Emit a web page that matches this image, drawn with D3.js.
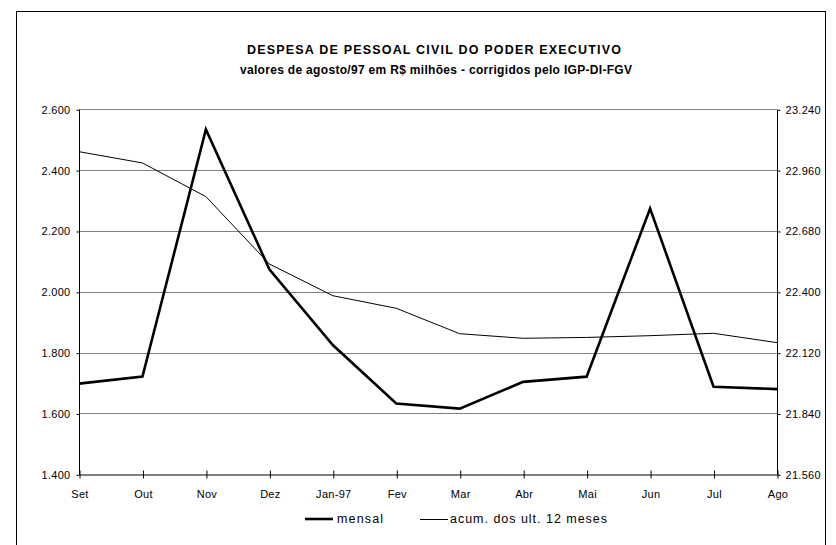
<!DOCTYPE html>
<html><head><meta charset="utf-8">
<script src="https://cdn.jsdelivr.net/npm/d3@7"></script>
<style>body{margin:0;background:#fff}svg{display:block}text{font-family:"Liberation Sans",Arial,sans-serif;fill:#000}</style>
</head><body>
<script>
const months = ["Set","Out","Nov","Dez","Jan-97","Fev","Mar","Abr","Mai","Jun","Jul","Ago"];
const mensal = [1698,1721,2534,2074,1825,1633,1616,1704,1721,2274,1688,1680];
const acum = [23045,22993,22838,22528,22382,22324,22207,22186,22190,22198,22209,22166];
const leftTicks = [1400,1600,1800,2000,2200,2400,2600];
const rightTicks = [21560,21840,22120,22400,22680,22960,23240];
const titleLines = ["DESPESA DE PESSOAL CIVIL DO PODER EXECUTIVO","valores de agosto/97 em R$ milhões - corrigidos pelo IGP-DI-FGV"];
const legendLabels = ["mensal","acum. dos ult. 12 meses"];

const W=836,H=545;
const svg=d3.select("body").append("svg").attr("width",W).attr("height",H);
svg.append("rect").attr("x",16.5).attr("y",11.5).attr("width",809).attr("height",560)
  .attr("fill","#fff").attr("stroke","#000").attr("stroke-width",1);

const x0=79,x1=777,yTop=109.3,yBot=474.3;
const x=d3.scalePoint().domain(months).range([x0,x1]);
const yL=d3.scaleLinear().domain([1400,2600]).range([yBot,yTop]);
const yR=d3.scaleLinear().domain([21560,23240]).range([yBot,yTop]);
const fmt=d3.format(",.0f");
const br=v=>fmt(v).replace(/,/g,".");

// gridlines
svg.append("g").selectAll("line").data(leftTicks.slice(1)).join("line")
  .attr("x1",x0).attr("x2",x1).attr("y1",d=>Math.round(yL(d))+0.5).attr("y2",d=>Math.round(yL(d))+0.5)
  .attr("stroke","#808080").attr("stroke-width",1);

// left axis
const gl=svg.append("g").attr("transform",`translate(${x0+0.5},0.5)`)
  .call(d3.axisLeft(yL).tickValues(leftTicks).tickSize(3).tickPadding(6).tickFormat(br));
// right axis
const gr=svg.append("g").attr("transform",`translate(${x1+0.5},0.5)`)
  .call(d3.axisRight(yR).tickValues(rightTicks).tickSize(3).tickPadding(5).tickFormat(br));
// bottom axis
const gb=svg.append("g").attr("transform",`translate(0.5,${Math.round(yBot)+0.5})`)
  .call(d3.axisBottom(x).tickSizeInner(4).tickSizeOuter(0).tickPadding(12));
gb.selectAll(".tick line").attr("y1",-4);
[gl,gr,gb].forEach(g=>{
  g.select(".domain").attr("stroke","#000");
  g.selectAll(".tick line").attr("stroke","#000");
  g.selectAll("text").attr("font-size",11).attr("font-family","Liberation Sans, Arial, sans-serif").attr("fill","#000").attr("letter-spacing",0.3);
});
gl.select(".domain").attr("d",`M0,${yTop}V${yBot}`);
gr.select(".domain").attr("d",`M0,${yTop}V${yBot}`);

// lines
svg.append("path").datum(acum)
  .attr("d",d3.line().x((d,i)=>x(months[i])).y(d=>yR(d)))
  .attr("fill","none").attr("stroke","#000").attr("stroke-width",1);
svg.append("path").datum(mensal)
  .attr("d",d3.line().x((d,i)=>x(months[i])).y(d=>yL(d)))
  .attr("fill","none").attr("stroke","#000").attr("stroke-width",2.6).attr("stroke-linejoin","miter");

// title
svg.append("text").attr("x",247).attr("y",54)
  .attr("font-size",12.5).attr("font-weight","bold").attr("textLength",374).attr("lengthAdjust","spacing").text(titleLines[0]);
svg.append("text").attr("x",240).attr("y",74)
  .attr("font-size",12).attr("font-weight","bold").attr("textLength",392).attr("lengthAdjust","spacing").text(titleLines[1]);

// legend
const lg=svg.append("g");
lg.append("line").attr("x1",305).attr("x2",333).attr("y1",519).attr("y2",519).attr("stroke","#000").attr("stroke-width",2.6);
lg.append("text").attr("x",337).attr("y",523).attr("font-size",12.5).attr("textLength",46).attr("lengthAdjust","spacing").text(legendLabels[0]);
lg.append("line").attr("x1",420).attr("x2",448).attr("y1",519.5).attr("y2",519.5).attr("stroke","#000").attr("stroke-width",1);
lg.append("text").attr("x",450).attr("y",523).attr("font-size",12.5).attr("textLength",157).attr("lengthAdjust","spacing").text(legendLabels[1]);
</script>
</body></html>
